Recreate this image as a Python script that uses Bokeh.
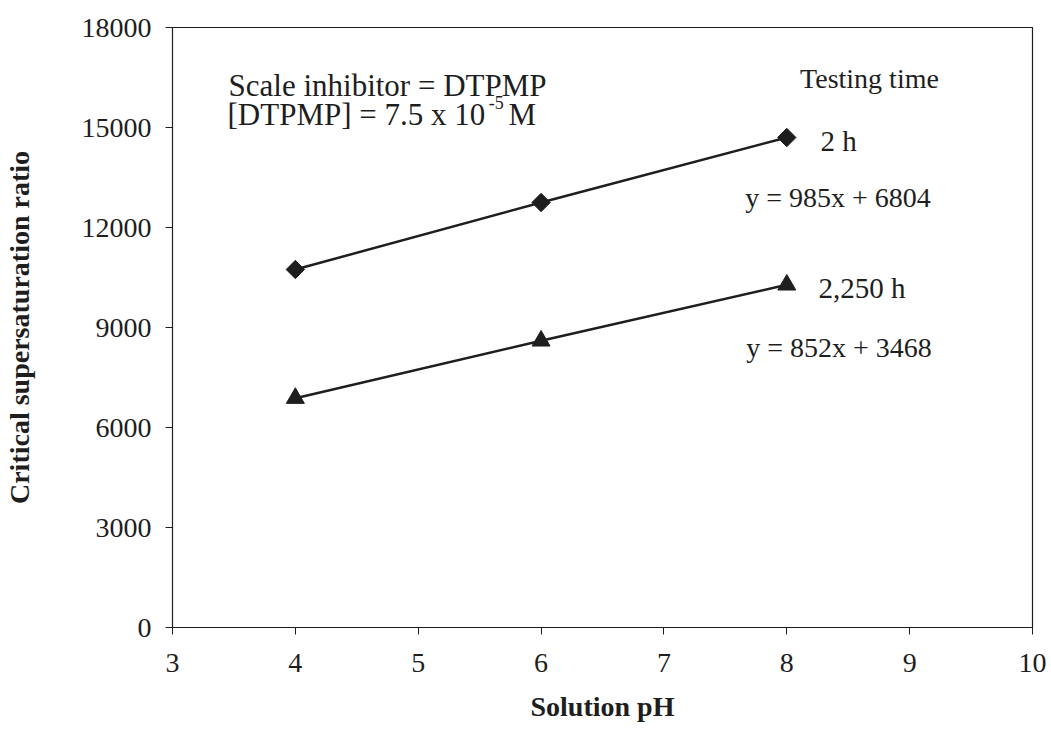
from bokeh.plotting import figure
from bokeh.models import Range1d, FixedTicker, Label
from bokeh.embed import file_html
from bokeh.resources import INLINE
import math

ph = [4, 6, 8]
ratio_2h = [10740, 12750, 14700]
ratio_2250h = [6880, 8600, 10280]
x_ticks = [3, 4, 5, 6, 7, 8, 9, 10]
y_ticks = [0, 3000, 6000, 9000, 12000, 15000, 18000]

FONT = "Liberation Serif"
INK = "#1e1e1e"

p = figure(width=1051, height=732, output_backend="svg", toolbar_location=None,
           x_range=Range1d(3, 10), y_range=Range1d(0, 18000),
           min_border_left=172, min_border_right=19, min_border_top=27, min_border_bottom=105)
p.grid.visible = False
p.background_fill_color = "white"
p.border_fill_color = "white"
p.outline_line_color = INK
p.outline_line_width = 1.2

for ax in (p.xaxis[0], p.yaxis[0]):
    ax.axis_line_color = INK
    ax.major_tick_line_color = INK
    ax.minor_tick_line_color = None
    ax.major_tick_in = 0
    ax.major_tick_out = 7
    ax.major_label_text_font = FONT
    ax.major_label_text_font_size = "28px"
    ax.major_label_text_color = INK
    ax.axis_label_text_font = FONT
    ax.axis_label_text_font_style = "bold"
    ax.axis_label_text_font_size = "28px"
    ax.axis_label_text_color = INK

p.xaxis.ticker = FixedTicker(ticks=x_ticks)
p.yaxis.ticker = FixedTicker(ticks=y_ticks)
p.xaxis.major_label_standoff = 19
p.yaxis.major_label_standoff = 14
p.xaxis.axis_label = "Solution pH"
p.xaxis.axis_label_standoff = 16
p.yaxis.axis_label = "Critical supersaturation ratio"
p.yaxis.axis_label_standoff = 44

p.line(ph, ratio_2h, line_color=INK, line_width=2.5)
p.scatter(ph, ratio_2h, marker="square", angle=math.pi / 4, size=13,
          fill_color=INK, line_color=INK)
p.line(ph, ratio_2250h, line_color=INK, line_width=2.5)
p.scatter(ph, ratio_2250h, marker="triangle", size=18, fill_color=INK, line_color=INK)

def lab(x, y, t, size, align="left"):
    p.add_layout(Label(x=x, y=y, text=t, text_font=FONT, text_font_size=size,
                       text_color=INK, text_align=align, text_baseline="middle"))

lab(3.456, 16260, "Scale inhibitor = DTPMP", "31px")
lab(3.448, 15390, "[DTPMP] = 7.5 x 10", "31px")
lab(5.575, 15750, "-5", "18px")
lab(5.735, 15390, "M", "31px")

lab(8.673, 16470, "Testing time", "28px", "center")
lab(8.274, 14610, "2 h", "29px")
lab(8.417, 12900, "y = 985x + 6804", "28px", "center")
lab(8.258, 10200, "2,250 h", "29px")
lab(8.425, 8400, "y = 852x + 3468", "28px", "center")

open("out.html", "w").write(file_html(p, INLINE))
